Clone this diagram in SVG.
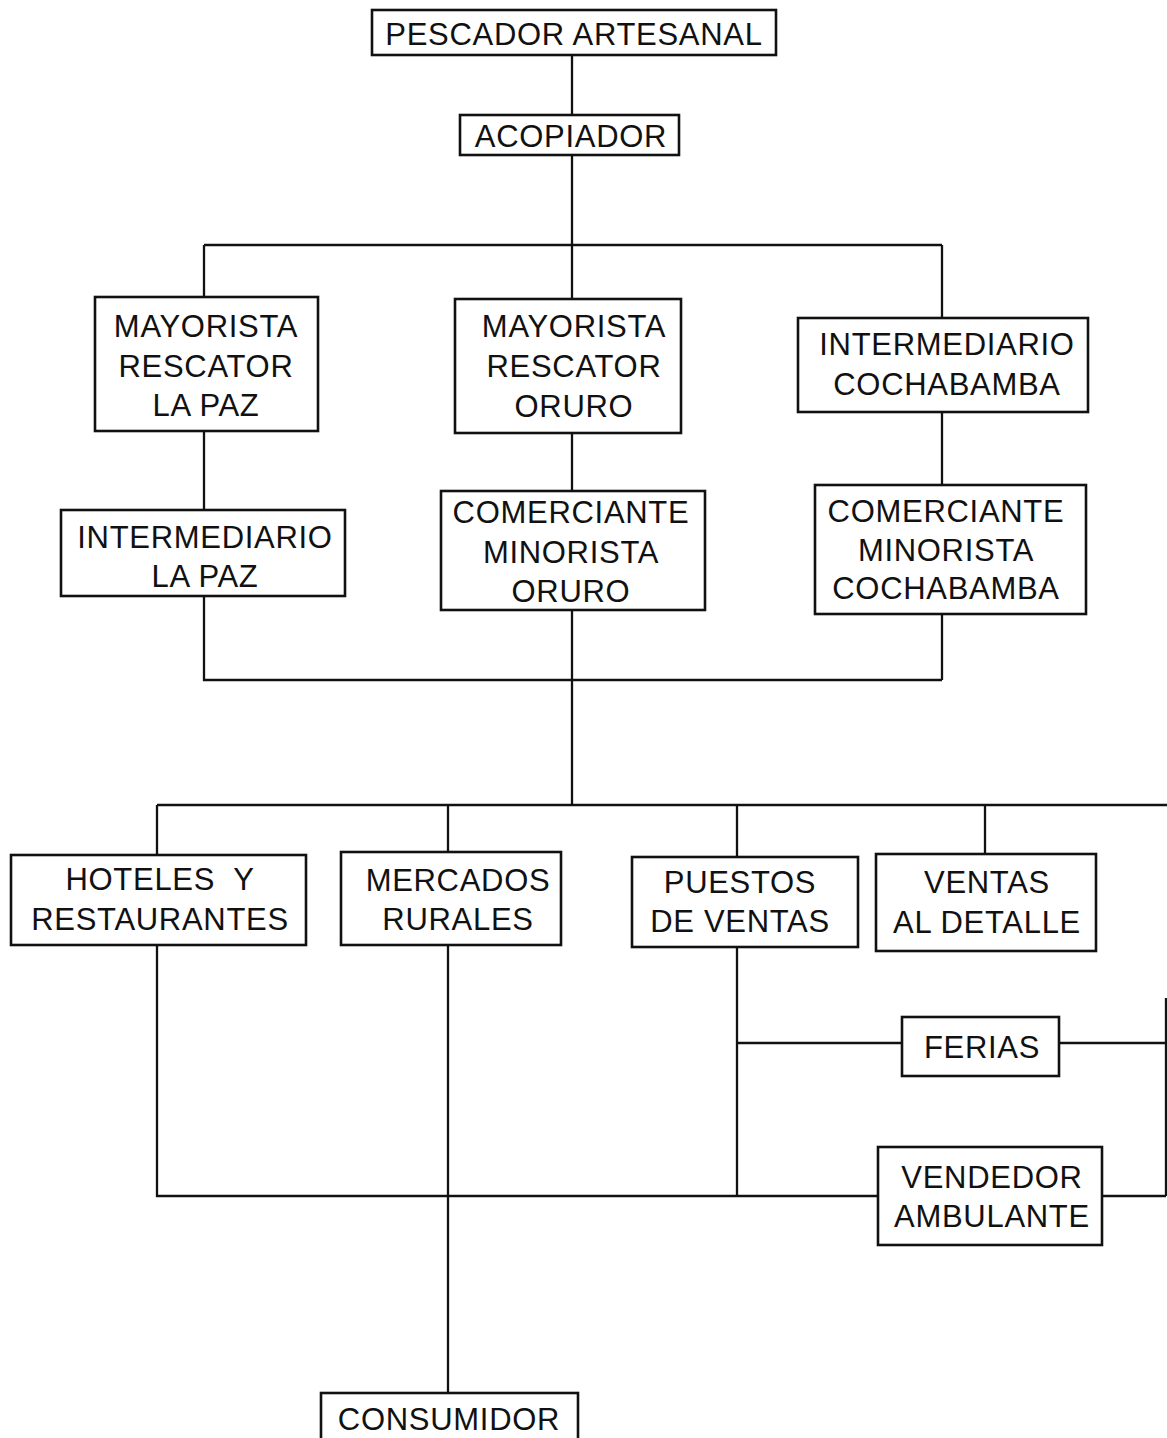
<svg xmlns="http://www.w3.org/2000/svg" width="1167" height="1438" viewBox="0 0 1167 1438">
<style>
.box{fill:#fff;stroke:#111;stroke-width:2.6}
.ln{fill:none;stroke:#111;stroke-width:2.3}
text{font-family:"Liberation Sans",Arial,sans-serif;font-size:31px;letter-spacing:0.7px;fill:#111;text-anchor:middle}
</style>
<rect width="1167" height="1438" fill="#fff"/>
<g id="connectors">
<path class="ln" d="M572 55V117M572 155V245M204 245H942M204 245V297M572 245V299M942 245V318"/>
<path class="ln" d="M204 431V511M204 596V680H942M942 412V486M942 614V680M572 433V491M572 610V805"/>
<path class="ln" d="M157 805H1167M157 805V855M448 805V852M737 805V857M985 805V854"/>
<path class="ln" d="M157 945V1196H878M448 945V1393M737 947V1196M737 1043H902M1059 1043H1166M1102 1196H1166M1166 998V1196"/>
</g>
<g id="n-pescador"><rect class="box" x="372" y="10" width="404" height="45"/><text x="574" y="45">PESCADOR ARTESANAL</text></g>
<g id="n-acopiador"><rect class="box" x="460" y="115" width="219" height="40"/><text x="571" y="147">ACOPIADOR</text></g>
<g id="n-mayorista-lapaz"><rect class="box" x="95" y="297" width="223" height="134"/><text x="206" y="337">MAYORISTA</text><text x="206" y="377">RESCATOR</text><text x="206" y="416">LA PAZ</text></g>
<g id="n-mayorista-oruro"><rect class="box" x="455" y="299" width="226" height="134"/><text x="574" y="337">MAYORISTA</text><text x="574" y="377">RESCATOR</text><text x="574" y="417">ORURO</text></g>
<g id="n-intermediario-cbba"><rect class="box" x="798" y="318" width="290" height="94"/><text x="947" y="355">INTERMEDIARIO</text><text x="947" y="395">COCHABAMBA</text></g>
<g id="n-intermediario-lapaz"><rect class="box" x="61" y="510" width="284" height="86"/><text x="205" y="548">INTERMEDIARIO</text><text x="205" y="587">LA PAZ</text></g>
<g id="n-comerciante-oruro"><rect class="box" x="441" y="491" width="264" height="119"/><text x="571" y="523">COMERCIANTE</text><text x="571" y="563">MINORISTA</text><text x="571" y="602">ORURO</text></g>
<g id="n-comerciante-cbba"><rect class="box" x="815" y="485" width="271" height="129"/><text x="946" y="522">COMERCIANTE</text><text x="946" y="561">MINORISTA</text><text x="946" y="599">COCHABAMBA</text></g>
<g id="n-hoteles"><rect class="box" x="11" y="855" width="295" height="90"/><text x="160" y="890" style="white-space:pre">HOTELES  Y</text><text x="160" y="930">RESTAURANTES</text></g>
<g id="n-mercados"><rect class="box" x="341" y="852" width="220" height="93"/><text x="458" y="891">MERCADOS</text><text x="458" y="930">RURALES</text></g>
<g id="n-puestos"><rect class="box" x="632" y="857" width="226" height="90"/><text x="740" y="893">PUESTOS</text><text x="740" y="932">DE VENTAS</text></g>
<g id="n-ventas"><rect class="box" x="876" y="854" width="220" height="97"/><text x="987" y="893">VENTAS</text><text x="987" y="933">AL DETALLE</text></g>
<g id="n-ferias"><rect class="box" x="902" y="1017" width="157" height="59"/><text x="982" y="1058">FERIAS</text></g>
<g id="n-vendedor"><rect class="box" x="878" y="1147" width="224" height="98"/><text x="992" y="1188">VENDEDOR</text><text x="992" y="1227">AMBULANTE</text></g>
<g id="n-consumidor"><rect class="box" x="321" y="1393" width="257" height="60"/><text x="449" y="1430">CONSUMIDOR</text></g>
</svg>
